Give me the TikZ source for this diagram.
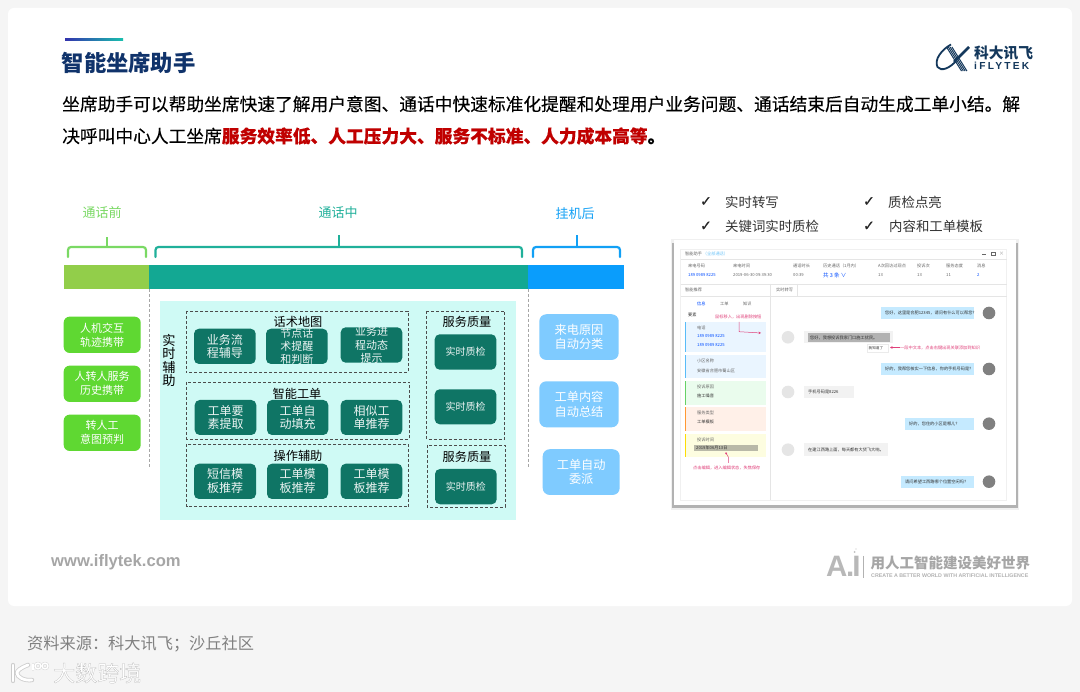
\documentclass[tikz,border=0pt]{standalone}
\usepackage{fontspec}
\setmainfont{Noto Sans CJK SC}
\newfontfamily\lat{Liberation Sans}
\newfontfamily\logofont[LetterSpace=22]{Liberation Sans}
\newfontfamily\med[FakeBold=0.2]{Noto Sans CJK SC}
\newfontfamily\halo[FakeBold=1.0]{Noto Sans CJK SC}
\newfontfamily\sym[FakeBold=0.6]{DejaVu Sans}
\usetikzlibrary{arrows.meta}
\definecolor{pagebg}{HTML}{F5F5F5}
\definecolor{navy}{HTML}{10336B}
\definecolor{logonavy}{HTML}{14385C}
\definecolor{cgreen}{HTML}{7AD964}
\definecolor{cteal}{HTML}{20B09A}
\definecolor{cblue}{HTML}{12A0F5}
\definecolor{bargreen}{HTML}{92CE4A}
\definecolor{barteal}{HTML}{13A893}
\definecolor{barblue}{HTML}{0A9DFC}
\definecolor{panel}{HTML}{CFFAF5}
\definecolor{dark}{HTML}{0F7565}
\definecolor{lgreen}{HTML}{5FD832}
\definecolor{lblue}{HTML}{7FCBFF}
\definecolor{redtxt}{HTML}{C00000}
\definecolor{pink}{HTML}{E0407A}
\definecolor{bubble}{HTML}{C5EAFF}
\definecolor{ghost}{HTML}{A6A6A6}
\definecolor{blkblue}{HTML}{EAF5FF}
\definecolor{blkgreen}{HTML}{EAFCED}
\definecolor{blkorange}{HTML}{FFF0E8}
\definecolor{blkyellow}{HTML}{FDFDE0}
\definecolor{hilite}{HTML}{B9B9A8}
\tikzset{
 fs/.style={font=\fontsize{#1}{#1}\selectfont},
 lab/.style={inner sep=0pt,align=center},
 brace/.style={line width=2.2pt,rounded corners=3pt,line cap=round},
 stem/.style={line width=2.2pt},
 dashbox/.style={draw=black!70,dash pattern=on 3pt off 2pt,line width=0.6pt},
 vdash/.style={draw=black!35,dash pattern=on 3pt off 2pt,line width=0.7pt},
 darkbox/.style={fill=dark,rounded corners=5pt},
 darktxt/.style={lab,text=white!92!dark,font=\fontsize{12}{13.7}\selectfont},
 qtxt/.style={lab,text=white!92!dark,font=\fontsize{10}{12}\selectfont},
 gbox/.style={fill=lgreen,rounded corners=6pt,lab,text=white,font=\fontsize{11}{14}\selectfont},
 bbox/.style={fill=lblue,rounded corners=7pt,lab,text=white,font=\fontsize{12.2}{14.5}\selectfont},
 tiny/.style={lab,anchor=west,text=black!60,font=\fontsize{4.2}{5}\selectfont},
 tinyb/.style={tiny,text=blue!70!cyan},
 tinyp/.style={tiny,text=pink},
 chk/.style={lab,text=black!80,font=\fontsize{13.4}{14}\selectfont,anchor=west},
 mark sym/.style={lab,text=black!85,font=\sym\fontsize{14}{15}\selectfont},
 rule/.style={black!10,line width=0.5pt},
 head/.style={lab,text=black,font=\fontsize{12.2}{12.2}\selectfont},
}
\begin{document}
\begin{tikzpicture}[x=1pt,y=-1pt]
\useasboundingbox (0,0) rectangle (1080,692);
\fill[pagebg] (0,0) rectangle (1080,692);
\fill[white,rounded corners=6pt] (8,8) rectangle (1072,606);

% heading
\fill[left color=blue!60!black!80,right color=cteal!80!cyan] (65,38.7) rectangle (123,40.7);
\node[lab,anchor=west,text=navy,font=\bfseries\fontsize{22.3}{24}\selectfont] (title) at (61.5,63) {智能坐席助手};
\node[lab,anchor=west,text=black,font=\med\fontsize{17.74}{20}\selectfont] (line1) at (62,104) {坐席助手可以帮助坐席快速了解用户意图、通话中快速标准化提醒和处理用户业务问题、通话结束后自动生成工单小结。解};
\node[lab,anchor=west,text=black,font=\med\fontsize{17.74}{20}\selectfont] (line2) at (62,136) {决呼叫中心人工坐席\textcolor{redtxt}{\bfseries 服务效率低、人工压力大、服务不标准、人力成本高等}{\bfseries 。}};

% logo
\draw[logonavy,line width=1.8pt] (951,44.5) .. controls (941,50) and (934,60) .. (937.5,67) .. controls (941,72) and (950,68) .. (956,61);
\foreach \d in {0,1.8,3.6,5.4}{\draw[logonavy,line width=1pt] (946.5+\d,47) -- (961.5+\d,71);}
\draw[logonavy,line width=2.6pt] (969,47) -- (954,62);
\node[lab,anchor=west,text=logonavy,font=\bfseries\fontsize{14.7}{15}\selectfont] (logocn) at (974,53) {科大讯飞};
\node[lab,anchor=west,text=logonavy,font=\logofont\bfseries\fontsize{10.2}{11}\selectfont] (logoen) at (974,66) {iFLYTEK};

% phase labels
\node[lab,text=cgreen,fs=13] (pre) at (102,213) {通话前};
\node[lab,text=cteal,fs=13] (mid) at (338,213) {通话中};
\node[lab,text=cblue,fs=13] (post) at (575,214) {挂机后};

% braces
\draw[brace,draw=cgreen] (68,257) -- (68,247) -- (146,247) -- (146,257);
\draw[stem,cgreen] (107,247) -- (107,237);
\draw[brace,draw=cteal] (155.5,257) -- (155.5,247) -- (522,247) -- (522,257);
\draw[stem,cteal] (339,247) -- (339,235);
\draw[brace,draw=cblue] (533,257) -- (533,247) -- (620,247) -- (620,257);
\draw[stem,cblue] (577,247) -- (577,235);

% bar
\fill[bargreen] (64,265) rectangle (149,289);
\fill[barteal] (149,265) rectangle (528,289);
\fill[barblue] (528,265) rectangle (624,289);
\draw[vdash] (149,289) -- (149,468);
\draw[vdash] (528,289) -- (528,468);

% panel
\fill[panel] (160,301) rectangle (516,520);
\node[lab,text=black,font=\fontsize{13.2}{13.2}\selectfont] (rt) at (169,360.5) {实\\时\\辅\\助};
\draw[dashbox] (186,311) rectangle (408,372.7);
\draw[dashbox] (186.5,382) rectangle (409,439);
\draw[dashbox] (186.5,444) rectangle (408.7,506.7);
\draw[dashbox] (426.7,311) rectangle (504.7,439);
\draw[dashbox] (427,445) rectangle (505,507);

% row 1
\fill[darkbox] (194,328.7) rectangle (255.7,364);
\node[darktxt] (a1) at (224.8,346.3) {业务流\\程辅导};
\fill[darkbox] (266,328.7) rectangle (327.7,364);
\fill[darkbox] (340.7,327.3) rectangle (402.3,362.7);
\begin{scope}
\clip (266,328.7) rectangle (327.7,364);
\node[darktxt,font=\fontsize{11}{13.3}\selectfont] (a2) at (296.8,346.3) {节点话\\术提醒\\和判断};
\end{scope}
\begin{scope}
\clip (340.7,327.3) rectangle (402.3,362.7);
\node[darktxt,font=\fontsize{11}{13.3}\selectfont] (a3) at (371.5,345) {业务进\\程动态\\提示};
\end{scope}
\node[head] (h1) at (298,322) {话术地图};

% row 2
\fill[darkbox] (194.7,400) rectangle (256.3,435);
\node[darktxt] (b1) at (225.5,417.5) {工单要\\素提取};
\fill[darkbox] (267,400) rectangle (328.3,435);
\node[darktxt] (b2) at (297.7,417.5) {工单自\\动填充};
\fill[darkbox] (340.7,400) rectangle (402.3,435);
\node[darktxt] (b3) at (371.5,417.5) {相似工\\单推荐};
\node[head] (h2) at (297,394) {智能工单};

% row 3
\fill[darkbox] (194,463.7) rectangle (256,499);
\node[darktxt] (c1) at (225,481.3) {短信模\\板推荐};
\fill[darkbox] (267,463.7) rectangle (328,499);
\node[darktxt] (c2) at (297.5,481.3) {工单模\\板推荐};
\fill[darkbox] (340.7,463.7) rectangle (402.3,499);
\node[darktxt] (c3) at (371.5,481.3) {工单模\\板推荐};
\node[head] (h3) at (298,456) {操作辅助};

% quality
\node[head] (q1) at (467,322) {服务质量};
\fill[darkbox] (434.7,334.3) rectangle (496.3,369.7);
\node[qtxt] (q1a) at (465.5,352) {实时质检};
\fill[darkbox] (434.7,389.3) rectangle (496.3,424.3);
\node[qtxt] (q1b) at (465.5,406.8) {实时质检};
\node[head] (q2) at (467,457) {服务质量};
\fill[darkbox] (435,469) rectangle (496.7,504.3);
\node[qtxt] (q2a) at (465.8,486.7) {实时质检};

% left boxes
\node[gbox,minimum width=77pt,minimum height=36.3pt] (g1) at (102.2,334.8) {人机交互\\轨迹携带};
\node[gbox,minimum width=77pt,minimum height=36.3pt] (g2) at (102.2,383.8) {人转人服务\\历史携带};
\node[gbox,minimum width=77pt,minimum height=36.3pt] (g3) at (102.2,432.8) {转人工\\意图预判};

% right boxes
\node[bbox,minimum width=79.4pt,minimum height=45.7pt] (r1) at (579,337.1) {来电原因\\自动分类};
\node[bbox,minimum width=79.4pt,minimum height=46pt] (r2) at (579,404.3) {工单内容\\自动总结};
\node[bbox,minimum width=77pt,minimum height=45.7pt] (r3) at (581.2,472.1) {工单自动\\委派};

% checklist
\node[mark sym] (m1) at (706,201.5) {✓};
\node[chk] (k1) at (725,202) {实时转写};
\node[mark sym] (m2) at (869,201.5) {✓};
\node[chk] (k2) at (888,202) {质检点亮};
\node[mark sym] (m3) at (706,226) {✓};
\node[chk] (k3) at (725,226.5) {关键词实时质检};
\node[mark sym] (m4) at (869,226) {✓};
\node[chk] (k4) at (889,226.5) {内容和工单模板};

% screenshot
\fill[black!6] (670.5,239.5) rectangle (1019,510);
\fill[black!30] (671.5,243) rectangle (1018,508.5);
\fill[white] (673.5,240.5) rectangle (1015.5,505.5);
\draw[black!6,line width=0.5pt,fill=white] (680.7,249) rectangle (1006.7,500);
\draw[rule] (680.7,259) -- (1006.7,259);
\draw[rule] (680.7,284) -- (1006.7,284);
\draw[rule] (680.7,296.3) -- (1006.7,296.3);
\draw[rule] (770.7,284) -- (770.7,500);
\draw[rule] (797,284) -- (797,296.3);

\node[tiny] (s1) at (685,254) {智能助手 \textcolor{cblue!60}{（全部通话）}};
\node[tiny] (s2) at (688,266) {来电号码};
\node[tinyb] (s3) at (688,275.3) {189 0989 8225};
\node[tiny] (s4) at (733,266) {来电时间};
\node[tiny] (s5) at (733,275.3) {2019-06-30 09:39:30};
\node[tiny] (s6) at (793,266) {通话时长};
\node[tiny] (s7) at (793,275.3) {00:39};
\node[tiny] (s8) at (823,266) {历史通话（1月内）};
\node[tinyb,font=\fontsize{5.5}{6}\selectfont] (s9) at (823,275.3) {共 3 条 ∨};
\node[tiny] (s10) at (878,266) {A次回访过现点};
\node[tiny] (s11) at (878,275.3) {13};
\node[tiny] (s12) at (917,266) {投诉次};
\node[tiny] (s13) at (917,275.3) {13};
\node[tiny] (s14) at (946,266) {服务态度};
\node[tiny] (s15) at (946,275.3) {11};
\node[tiny] (s16) at (977,266) {消息};
\node[tinyb] (s17) at (977,275.3) {2};
\draw[black!60,line width=0.5pt] (982,254) -- (985.5,254);
\draw[black!60,line width=0.5pt] (991.5,252) rectangle (995,255.7);
\node[lab,text=black!40,fs=5] (s18) at (1001.5,254) {×};
\node[tiny] (s19) at (685,290) {智能推荐};
\node[tiny] (s20) at (776,290) {实时转写};
\node[tinyb] (s21) at (697,303.5) {信息};
\node[tiny] (s22) at (720,303.5) {工单};
\node[tiny] (s23) at (743,303.5) {知识};
\node[tiny,text=black!80] (s24) at (688,315) {要素};
\node[tinyp] (s25) at (715,317) {鼠标移入，出现删除按钮};

% left blocks
\fill[blkblue] (685,322) rectangle (766,352);
\fill[cblue!70] (685,322) rectangle (686,352);
\fill[blkblue] (685,355) rectangle (766,378);
\fill[cblue!70] (685,355) rectangle (686,378);
\fill[blkgreen] (685,381) rectangle (766,404.7);
\fill[green!70!black!60] (685,381) rectangle (686,404.7);
\fill[blkorange] (685,407) rectangle (766,431);
\fill[orange!80] (685,407) rectangle (686,431);
\fill[blkyellow] (685,433.7) rectangle (766,457.3);
\fill[yellow!80!orange] (685,433.7) rectangle (686,457.3);
\fill[hilite] (694,444.7) rectangle (757.7,451.3);
\node[tiny] (b11) at (697,327.5) {电话};
\node[tinyb] (b12) at (697,336.5) {189 0989 8225};
\node[tinyb] (b13) at (697,345) {189 0989 8225};
\node[tiny] (b14) at (697,360.5) {小区名称};
\node[tiny] (b15) at (697,370.5) {安徽省合肥市蜀山区};
\node[tiny] (b16) at (697,387) {投诉原因};
\node[tiny,text=black!80] (b17) at (697,396) {施工噪音};
\node[tiny] (b18) at (697,413) {服务类型};
\node[tiny,text=black!80] (b19) at (697,422) {工单模板};
\node[tiny] (b20) at (697,439.5) {投诉时间};
\node[tiny,text=black!80] (b21) at (696,448) {2019年06月13日};
\node[tinyp] (b22) at (693,467.5) {点击编辑，进入编辑状态，失焦保存};
\coordinate (pa) at (739,322);
\coordinate (pb) at (739,331.7);
\coordinate (pc) at (761,333);
\draw[pink,line width=0.5pt,-{Stealth[length=2.5pt,width=2.5pt]}] (pa) -- (pb) -- (pc);
\coordinate (pd) at (728.3,463);
\coordinate (pf) at (728.3,457);
\coordinate (pe) at (725.7,452.5);
\draw[pink,line width=0.5pt,-{Circle[length=2pt]}] (pd) -- (pf) -- (pe);

% chat
\foreach \y in {337.3,392,449.7}{\fill[black!10] (788,\y) circle (6.3);}
\foreach \y in {313,369,423.7,481.7}{\fill[black!50] (989,\y) circle (6.3);}
\fill[bubble] (881,307) rectangle (974.3,319);
\fill[bubble] (881,363.3) rectangle (974.3,375);
\fill[bubble] (905,417.7) rectangle (974.3,430);
\fill[bubble] (901,475.7) rectangle (974.3,487.7);
\fill[black!5] (804,331) rectangle (893,343.5);
\fill[black!30] (808,333) rectangle (890,342);
\fill[black!5] (804,385.7) rectangle (854,398);
\fill[black!5] (804,443) rectangle (887.7,456);
\fill[white,draw=black!8,line width=0.3pt] (866.7,343.7) rectangle (888,351.7);
\node[tiny,text=black!80] (m11) at (885,313) {您好，这里是合肥12345，请问有什么可以帮您？};
\node[tiny,text=black!80] (m12) at (885,369) {好的，我帮您核实一下信息，你的手机号码是？};
\node[tiny,text=black!80] (m13) at (909,423.7) {好的，您住的小区是哪儿？};
\node[tiny,text=black!80] (m14) at (905,481.7) {请问希望工西路哪个位置空闲吗？};
\node[tiny,text=black!80] (m15) at (810,337.5) {您好，我想投诉我家门口施工扰民。};
\node[tiny,text=black!80] (m16) at (808,392) {手机号码是8226};
\node[tiny,text=black!80] (m17) at (808,449.5) {在建江西路上面，每天都有大货飞大响。};
\node[tiny,text=black!80,font=\fontsize{3.6}{4}\selectfont] (m18) at (868.5,347.7) {我知道了};
\node[tinyp] (an) at (900,347.5) {一段中文本，点击右键出现关联添加到知识};
\coordinate (ptr) at (890,347.5);
\draw[pink,line width=0.5pt,-{Stealth[length=2.5pt,width=2.5pt]}] (an.west) -- (ptr);

% footer marks
\node[lab,anchor=west,text=ghost,font=\lat\bfseries\fontsize{16.6}{18}\selectfont] (www) at (51,562.5) {www.iflytek.com};
\node[lab,anchor=west,text=black!28,font=\lat\bfseries\fontsize{29.5}{30}\selectfont] (ai) at (826,566) {A\kern-1.5pt.\kern-1.8pt I};
\fill[black!25] (854.5,552) circle (1);
\fill[black!25] (856,549) circle (0.7);
\draw[black!30,line width=0.6pt] (863,556) -- (863,578);
\node[lab,anchor=west,text=ghost,font=\bfseries\fontsize{14.5}{15}\selectfont] (slogan) at (870.5,562.5) {用人工智能建设美好世界};
\node[lab,anchor=west,text=black!30,font=\lat\bfseries\fontsize{5.3}{6}\selectfont] (slogan2) at (871,575.5) {CREATE A BETTER WORLD WITH ARTIFICIAL INTELLIGENCE};

% source
\node[lab,anchor=west,text=black!50,fs=16.2] (src) at (27,644) {资料来源：科大讯飞；沙丘社区};

% watermark
\node[lab,anchor=west,text=white,font=\halo\fontsize{22}{24}\selectfont] (wm) at (53,673) {\color{white}\special{pdf:code 0.72 0.72 0.72 RG}大数跨境};
\foreach \w/\c in {4.4/black!20,2.8/white}{
 \draw[\c,line width=\w pt,line cap=round] (13,665) -- (13,681);
 \draw[\c,line width=\w pt,line cap=round] (28,665) .. controls (20,668) and (17,671) .. (17,673) .. controls (17,677) and (24,681) .. (32,680);
 \draw[\c,line width=\w pt*0.5,line cap=round] (33,664) -- (33,670);
 \draw[\c,line width=\w pt*0.5] (38,666) circle (3);
 \draw[\c,line width=\w pt*0.5] (45,666) circle (3);
}
\end{tikzpicture}
\end{document}
